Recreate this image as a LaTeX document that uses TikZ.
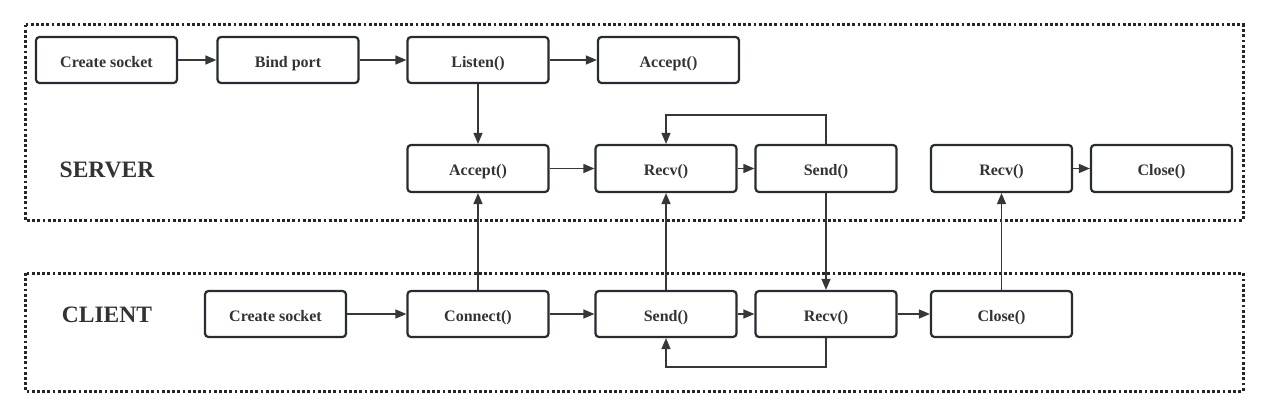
\documentclass[tikz,border=0pt]{standalone}
\usepackage{fontspec}
\setmainfont{Liberation Serif}
\usetikzlibrary{arrows.meta}
\definecolor{boxc}{RGB}{38,44,50}
\definecolor{txtc}{RGB}{51,51,51}
\definecolor{linec}{RGB}{55,55,55}
\tikzset{
  stepbox/.style={draw=boxc, line width=2.2pt, rounded corners=3.5pt, minimum width=141pt, minimum height=46pt, inner sep=0pt, text height=14pt, text depth=0pt, text=txtc, font=\fontsize{16}{18}\selectfont\bfseries},
  arr/.style={draw=linec, line width=1.4pt, -{Triangle[length=11pt,width=9pt]}},
  region/.style={draw=black!85, line width=3pt, dash pattern=on 2.8pt off 2.4pt},
  lbl/.style={text=txtc, font=\fontsize{23.5}{28}\selectfont\bfseries, inner sep=0pt}
}
\begin{document}
\begin{tikzpicture}[x=1pt,y=-1pt]
\useasboundingbox (0,0) rectangle (1268,415);
% regions
\draw[region] (25,24.5) rectangle (1243,220);
\draw[region] (25,273) rectangle (1243,391);
\node[lbl] (server) at (107,170) {SERVER};
\node[lbl] (client) at (107,315) {CLIENT};
% server row 1
\node[stepbox] (cs1) at (106.5,60) {Create socket};
\node[stepbox] (bp) at (288,60) {Bind port};
\node[stepbox] (listen) at (478,60) {Listen()};
\node[stepbox] (acc1) at (668.5,60) {Accept()};
% server row 2
\node[stepbox, minimum height=47pt] (acc2) at (478,168.5) {Accept()};
\node[stepbox, minimum height=47pt] (recv1) at (666,168.5) {Recv()};
\node[stepbox, minimum height=47pt] (send1) at (826,168.5) {Send()};
\node[stepbox, minimum height=47pt] (recv2) at (1001.5,168.5) {Recv()};
\node[stepbox, minimum height=47pt] (close1) at (1161.5,168.5) {Close()};
% client row
\node[stepbox] (cs2) at (275.5,314) {Create socket};
\node[stepbox] (conn) at (478,314) {Connect()};
\node[stepbox] (send2) at (666,314) {Send()};
\node[stepbox] (recv3) at (826,314) {Recv()};
\node[stepbox] (close2) at (1001.5,314) {Close()};
% arrows
\draw[arr] (cs1) -- (bp);
\draw[arr] (bp) -- (listen);
\draw[arr] (listen) -- (acc1);
\draw[arr] (listen) -- (acc2);
\draw[arr] (acc2) -- (recv1);
\draw[arr] (recv1) -- (send1);
\draw[arr] (recv2) -- (close1);
\draw[arr] (cs2) -- (conn);
\draw[arr] (conn) -- (send2);
\draw[arr] (send2) -- (recv3);
\draw[arr] (recv3) -- (close2);
\draw[arr] (conn) -- (acc2);
\draw[arr] (send2) -- (recv1);
\draw[arr] (send1) -- (recv3);
\draw[arr] (close2) -- (recv2);
\draw[arr] (send1.north) -- ++(0,-29) -| (recv1.north);
\draw[arr] (recv3.south) -- ++(0,29) -| (send2.south);
\end{tikzpicture}
\end{document}
